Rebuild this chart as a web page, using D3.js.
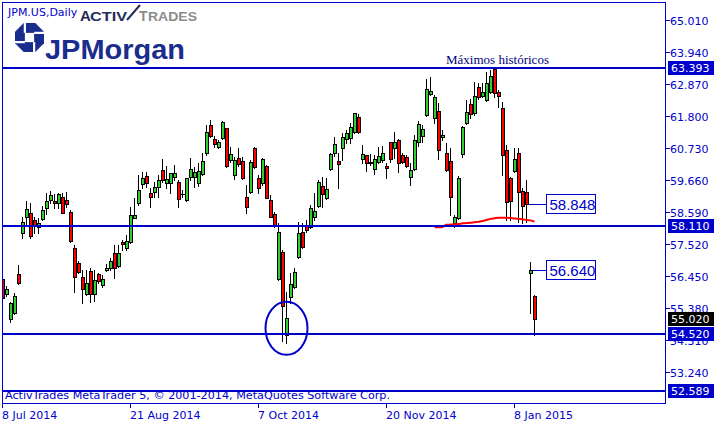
<!DOCTYPE html>
<html><head><meta charset="utf-8">
<script src="https://cdn.jsdelivr.net/npm/d3@7"></script>
<style>html,body{margin:0;padding:0;background:#fff;overflow:hidden}</style>
</head><body>
<svg id="c" width="728" height="428"></svg>
<script>
// ---------------- data ----------------
const symbolTitle = "JPM.US,Daily";
const open = [56.35,55.85,55.01,55.21,56.52,57.89,58.42,58.56,58.32,58.09,
 58.36,58.72,58.99,58.96,58.89,59.09,58.99,58.59,57.39,56.89,
 56.42,55.85,56.62,55.85,56.52,56.15,56.65,56.72,57.22,56.79,
 57.59,57.39,57.59,58.39,58.89,59.53,59.79,59.23,59.26,59.43,
 59.99,59.56,59.56,59.76,59.59,59.19,58.99,59.76,59.76,59.56,
 59.86,60.56,61.50,61.03,60.76,61.07,61.40,60.33,59.83,60.40,
 60.30,59.09,59.26,60.73,59.73,59.56,60.13,58.99,58.52,56.35,
 57.25,54.48,55.75,56.08,57.09,57.92,58.12,58.09,58.42,58.79,
 59.46,59.06,60.03,60.56,60.30,60.73,61.03,61.07,61.27,61.77,
 60.36,60.50,60.23,60.03,60.26,60.33,60.13,60.93,60.73,61.00,
 60.50,60.43,59.76,60.03,60.93,61.13,61.83,62.54,61.73,61.97,
 61.10,60.56,60.30,58.22,58.39,60.53,61.57,62.20,61.90,62.77,
 62.47,62.34,62.60,63.37,62.60,62.07,60.66,59.73,59.96,60.56,
 59.29,59.26,56.55,55.78];
const high = [56.42,56.12,55.58,55.88,56.82,58.42,58.96,58.89,58.42,58.39,
 58.79,59.23,59.29,59.19,59.23,59.23,59.26,58.66,57.49,56.95,
 56.65,56.65,56.72,56.65,56.55,56.48,56.85,57.05,57.49,57.49,
 57.65,57.82,58.76,59.06,59.83,59.93,59.93,59.39,59.59,59.83,
 60.36,60.13,59.89,60.16,59.66,59.33,59.73,60.40,60.10,60.23,
 60.56,61.50,61.67,61.13,61.00,61.63,61.40,60.76,60.43,60.73,
 60.43,59.49,60.33,60.76,59.83,60.40,60.16,59.16,58.59,58.22,
 57.32,55.92,56.55,56.72,58.26,58.22,58.32,58.82,59.23,59.66,
 59.76,59.73,60.56,61.10,60.56,61.23,61.33,61.57,61.90,61.87,
 60.83,60.50,60.53,60.50,60.76,60.80,60.23,60.93,61.27,61.03,
 60.56,60.50,60.23,61.17,61.63,61.50,63.04,63.10,62.50,62.24,
 61.33,60.90,60.73,58.49,59.79,61.47,62.34,62.37,62.94,62.90,
 62.90,63.27,63.34,63.39,62.67,62.27,60.83,59.76,60.73,60.73,
 59.39,59.66,56.92,55.82];
const low = [55.68,55.78,54.91,55.18,56.18,57.72,58.16,57.72,57.89,57.89,
 58.32,58.52,58.89,58.72,58.72,58.56,58.76,57.59,55.92,56.55,
 55.55,55.82,55.58,55.61,56.22,56.08,56.62,56.65,56.38,56.75,
 57.32,57.32,57.55,58.39,58.82,59.39,59.43,58.76,59.09,59.09,
 59.59,59.39,59.23,59.66,58.76,59.09,58.96,59.66,59.43,59.46,
 59.83,60.50,61.10,60.76,60.73,61.03,60.10,60.26,59.69,60.13,
 59.69,58.56,59.23,60.06,59.23,59.49,59.06,58.42,58.09,56.32,
 54.26,54.21,55.55,56.05,57.05,57.39,57.92,58.06,58.32,58.76,
 58.76,59.03,59.99,60.46,59.39,60.33,60.90,60.90,61.23,61.23,
 60.23,59.96,60.16,59.86,60.23,60.26,59.73,60.26,60.40,59.93,
 60.23,60.10,59.49,59.99,60.80,60.93,61.80,62.50,61.57,60.36,
 61.00,59.96,58.49,58.09,58.36,60.43,61.53,61.73,61.83,62.37,
 62.44,62.30,62.57,62.44,62.10,59.83,58.32,58.32,59.93,58.26,
 58.22,58.26,55.21,54.48];
const close = [55.71,56.02,55.55,55.78,56.22,58.26,58.69,57.79,58.16,58.22,
 58.66,58.96,59.16,58.89,59.19,58.56,58.86,57.62,56.42,56.58,
 56.02,56.22,55.85,56.32,56.28,56.35,56.72,56.95,56.72,57.22,
 57.52,57.62,58.49,58.49,59.33,59.73,59.56,59.09,59.43,59.66,
 59.66,59.69,59.89,59.89,59.03,59.19,59.73,60.03,59.93,59.96,
 60.30,61.27,61.13,60.86,60.93,61.60,60.13,60.53,60.33,60.20,
 59.73,58.76,60.26,60.10,59.39,60.36,59.06,58.42,58.12,57.92,
 55.45,55.05,56.18,56.58,57.89,57.42,57.99,58.72,58.62,59.59,
 59.19,59.36,60.53,60.86,60.20,61.10,61.23,61.43,61.90,61.27,
 60.53,60.23,60.26,60.36,60.46,60.56,60.06,60.36,60.93,60.23,
 60.26,60.13,59.99,61.00,61.53,61.37,62.70,62.64,62.44,60.66,
 61.17,59.99,59.09,58.42,59.73,61.43,61.93,61.87,62.47,62.44,
 62.60,62.90,63.14,62.57,62.47,60.50,58.93,58.96,60.36,59.26,
 58.79,58.85,56.64,55.02];

const xTickIndex = [0, 32, 64, 96, 128];
const xTickLabels = ["8 Jul 2014", "21 Aug 2014", "7 Oct 2014", "20 Nov 2014", "8 Jan 2015"];
const yTicks = [65.010, 63.940, 62.870, 61.800, 60.730, 59.660, 58.590, 57.520, 56.450, 55.380, 54.310, 53.240];
const levelLines = [63.393, 58.110, 54.520, 52.589];
const lastPrice = 55.020;

const curveStart = 108;
const curveValues = [58.08,58.08,58.09,58.16,58.17,58.18,58.19,58.21,58.22,58.23,
 58.25,58.26,58.29,58.32,58.36,58.38,58.40,58.40,58.40,58.39,
 58.37,58.36,58.35,58.32,58.31,58.27];

const calloutIndex = [131, 132];
const calloutValues = [58.848, 56.640];

const circleIndex = 71, circlePrice = 54.70, circleRadiusBars = 5.25, circleRadiusPrice = 0.885;
const noteIndex = 123.75;
const noteText = "Máximos históricos";
const copyright = "ActivTrades MetaTrader 5, © 2001-2014, MetaQuotes Software Corp.";

// ---------------- drawing ----------------
const BLUE = "#0000cc";
const svg = d3.select("#c");
const FL = 2, FR = 665, FT = 2, FB = 403;

const x = d3.scaleLinear().domain([0, 166]).range([2.5, 666.5]);
const y = d3.scaleLinear().domain([53.240, 65.010]).range([372, 20]);
const py = v => Math.round(y(v));

svg.append("rect").attr("width", 728).attr("height", 428).attr("fill", "#fff");

svg.append("defs").append("clipPath").attr("id", "plot")
  .append("rect").attr("x", FL + 1).attr("y", FT + 1).attr("width", FR - FL - 1).attr("height", FB - FT - 1);

const plot = svg.append("g").attr("clip-path", "url(#plot)");

// candles
const idx = d3.range(close.length);
const cg = plot.append("g").attr("shape-rendering", "crispEdges");
cg.selectAll("line.w").data(idx).join("line")
  .attr("x1", i => x(i)).attr("x2", i => x(i))
  .attr("y1", i => py(high[i])).attr("y2", i => py(low[i]) + 1)
  .attr("stroke", "#000").attr("stroke-width", 1);
cg.selectAll("rect.b").data(idx.filter(i => open[i] !== close[i])).join("rect")
  .attr("x", i => x(i) - 1)
  .attr("y", i => py(Math.max(open[i], close[i])) + 0.5)
  .attr("width", 3)
  .attr("height", i => Math.max(1, py(Math.min(open[i], close[i])) - py(Math.max(open[i], close[i]))))
  .attr("fill", i => close[i] > open[i] ? "#32cd32" : "#ff0000")
  .attr("stroke", "#000").attr("stroke-width", 1);
cg.selectAll("line.d").data(idx.filter(i => open[i] === close[i])).join("line")
  .attr("x1", i => x(i) - 1.5).attr("x2", i => x(i) + 2.5)
  .attr("y1", i => py(close[i]) + 0.5).attr("y2", i => py(close[i]) + 0.5)
  .attr("stroke", "#000");

// red curve
plot.append("path")
  .datum(curveValues)
  .attr("d", d3.line().x((v, k) => x(curveStart + k)).y(v => y(v)).curve(d3.curveMonotoneX))
  .attr("fill", "none").attr("stroke", "#ff0000").attr("stroke-width", 2);

// level lines
plot.selectAll("line.lvl").data(levelLines).join("line")
  .attr("x1", FL).attr("x2", FR)
  .attr("y1", v => py(v)).attr("y2", v => py(v))
  .attr("stroke", BLUE).attr("stroke-width", 2).attr("shape-rendering", "crispEdges");

// circle
plot.append("ellipse")
  .attr("cx", x(circleIndex)).attr("cy", y(circlePrice))
  .attr("rx", x(circleIndex + circleRadiusBars) - x(circleIndex))
  .attr("ry", y(circlePrice - circleRadiusPrice) - y(circlePrice))
  .attr("fill", "none").attr("stroke", BLUE).attr("stroke-width", 2);

// note text
plot.append("text").attr("x", x(noteIndex)).attr("y", py(levelLines[0]) - 4)
  .attr("text-anchor", "middle").attr("font-family", "Liberation Serif, serif")
  .attr("font-size", 13).attr("fill", "#000080").text(noteText);

// callouts
const lastIdx = close.length - 1;
const boxLeft = x(lastIdx) + 11.5;
calloutIndex.forEach((ci, k) => {
  const yy = py(calloutValues[k]) + 0.5;
  plot.append("line").attr("x1", x(ci) + 2).attr("x2", boxLeft).attr("y1", yy).attr("y2", yy)
    .attr("stroke", BLUE).attr("shape-rendering", "crispEdges");
  plot.append("rect").attr("x", boxLeft).attr("y", yy - 10).attr("width", 49).attr("height", 19)
    .attr("fill", "#fff").attr("stroke", BLUE).attr("shape-rendering", "crispEdges");
  plot.append("text").attr("x", boxLeft + 3.5).attr("y", yy + 5.5)
    .attr("font-family", "Liberation Sans, Arial, sans-serif").attr("font-size", 15)
    .attr("fill", BLUE).text(calloutValues[k].toFixed(3));
});

// frame
svg.append("rect").attr("x", FL + 0.5).attr("y", FT + 0.5).attr("width", FR - FL).attr("height", FB - FT)
  .attr("fill", "none").attr("stroke", BLUE).attr("shape-rendering", "crispEdges");

// right axis
const ax = svg.append("g").attr("font-family", "DejaVu Sans, sans-serif").attr("font-size", 11);
yTicks.forEach(v => {
  const yy = py(v) + 0.5;
  ax.append("line").attr("x1", FR + 1).attr("x2", FR + 5).attr("y1", yy).attr("y2", yy)
    .attr("stroke", BLUE).attr("shape-rendering", "crispEdges");
  ax.append("text").attr("x", FR + 5).attr("y", yy + 4).attr("fill", BLUE).text(v.toFixed(3));
});
levelLines.forEach(v => {
  const yy = py(v);
  ax.append("rect").attr("x", 668).attr("y", yy - 7).attr("width", 46).attr("height", 14).attr("fill", BLUE);
  ax.append("text").attr("x", 671).attr("y", yy + 4).attr("fill", "#fff").text(v.toFixed(3));
});
{
  const yy = py(lastPrice);
  ax.append("rect").attr("x", 668).attr("y", yy - 7).attr("width", 46).attr("height", 14).attr("fill", "#000");
  ax.append("text").attr("x", 671).attr("y", yy + 4).attr("fill", "#fff").text(lastPrice.toFixed(3));
}

// bottom axis
xTickIndex.forEach((ti, k) => {
  const xx = Math.floor(x(ti)) + 0.5;
  ax.append("line").attr("x1", xx).attr("x2", xx).attr("y1", FB).attr("y2", FB + 5)
    .attr("stroke", BLUE).attr("shape-rendering", "crispEdges");
  ax.append("text").attr("x", xx - 0.5).attr("y", 419).attr("fill", BLUE).text(xTickLabels[k]);
});

// copyright & title
ax.append("text").attr("x", 5).attr("y", 399).attr("fill", BLUE)
  .attr("textLength", 385).attr("lengthAdjust", "spacingAndGlyphs").text(copyright);
ax.append("text").attr("x", 8).attr("y", 16).attr("fill", BLUE).text(symbolTitle);

// ActivTrades logo
const lg = svg.append("g").attr("font-family", "Liberation Sans, Arial, sans-serif").attr("font-weight", "bold");
lg.append("text").attr("x", 80).attr("y", 21).attr("font-size", 15).attr("fill", "#262b5a").text("A");
lg.append("text").attr("x", 90).attr("y", 21).attr("font-size", 12).attr("fill", "#262b5a")
  .attr("textLength", 37).attr("lengthAdjust", "spacingAndGlyphs").text("CTIV");
lg.append("path").attr("d", "M127,20 L140,5").attr("stroke", "#262b5a").attr("stroke-width", 2);
lg.append("text").attr("x", 139).attr("y", 21).attr("font-size", 14).attr("fill", "#8c8c8c").text("T");
lg.append("text").attr("x", 148).attr("y", 21).attr("font-size", 12).attr("fill", "#8c8c8c")
  .attr("textLength", 49).attr("lengthAdjust", "spacingAndGlyphs").text("RADES");

// JPMorgan logo
const NAVY = "#1a2d8c";
const s = 29, ox = 15, oy = 23;
const P = pts => "M" + pts.map(p => [ox + p[0] * s, oy + p[1] * s].join(",")).join("L") + "Z";
const jl = svg.append("g");
jl.append("path").attr("d", P([[0.3,0],[0.7,0],[1,0.3],[1,0.7],[0.7,1],[0.3,1],[0,0.7],[0,0.3]])).attr("fill", NAVY);
jl.append("path").attr("d", P([[0.34,0.34],[0.66,0.34],[0.66,0.66],[0.34,0.66]])).attr("fill", "#fff");
[[[0.34,0.34],[0.34,0]],[[0.66,0.34],[1,0.34]],[[0.66,0.66],[0.66,1]],[[0.34,0.66],[0,0.66]]].forEach(l => {
  jl.append("line").attr("x1", ox + l[0][0] * s).attr("y1", oy + l[0][1] * s)
    .attr("x2", ox + l[1][0] * s).attr("y2", oy + l[1][1] * s)
    .attr("stroke", "#fff").attr("stroke-width", 2.2);
});
svg.append("text").attr("x", 45).attr("y", 59).attr("font-family", "Liberation Sans, Arial, sans-serif")
  .attr("font-weight", "bold").attr("font-size", 27).attr("fill", NAVY)
  .attr("textLength", 140).attr("lengthAdjust", "spacingAndGlyphs").text("JPMorgan");
</script>
</body></html>
